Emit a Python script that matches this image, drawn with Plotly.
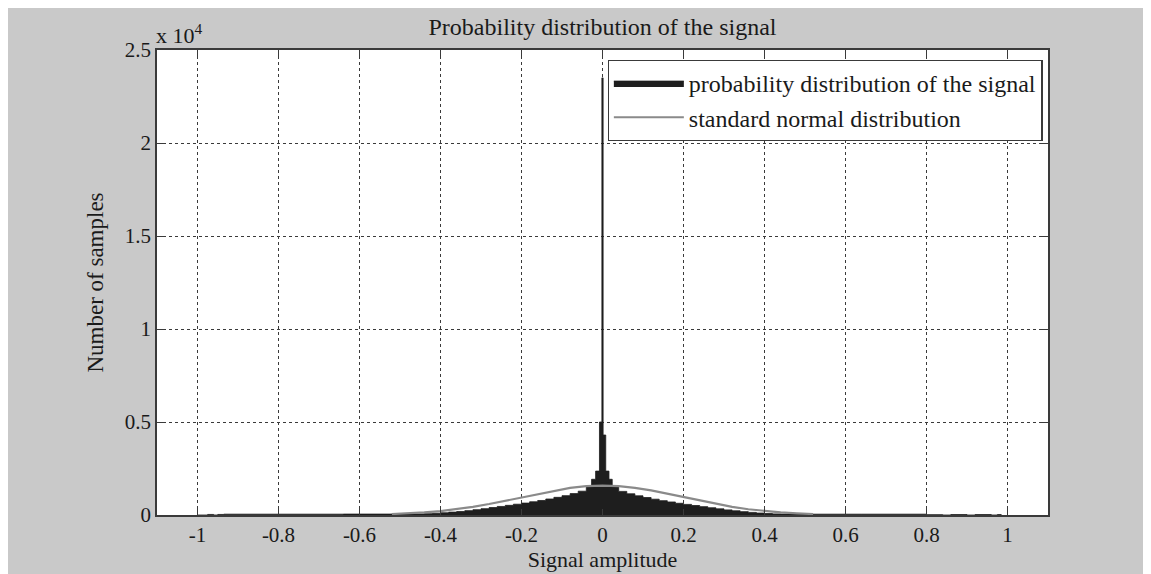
import plotly.graph_objects as go

# ---------------- data ----------------
# histogram of the signal: bin edges and counts (variable-width bins)
bin_edges = [
    -1.00, -0.975, -0.96, -0.95, -0.935, -0.80, -0.64, -0.52, -0.44,
    -0.42, -0.40, -0.38, -0.36, -0.34, -0.32, -0.30, -0.28, -0.26, -0.24,
    -0.22, -0.20, -0.18, -0.16, -0.14, -0.12, -0.10, -0.08, -0.06, -0.04,
    -0.027, -0.017, -0.0075, -0.0015, 0.0015, 0.008, 0.016, 0.024, 0.04,
    0.06, 0.08, 0.10, 0.12, 0.14, 0.16, 0.18, 0.20, 0.22, 0.24,
    0.26, 0.28, 0.30, 0.32, 0.34, 0.36, 0.38, 0.40, 0.42, 0.44,
    0.52, 0.64, 0.80, 0.84, 0.86, 0.90, 0.92, 0.96, 0.975, 0.985,
]
bin_counts = [
    0, 30, 0, 30, 45, 45, 50, 60,
    70, 95, 120, 155, 190, 235, 285, 340, 400, 460,
    520, 580, 640, 710, 780, 860, 950, 1040, 1150, 1280,
    1500, 1920, 2360, 5000, 23500, 4300, 2360, 1920, 1500,
    1270, 1140, 1030, 940, 850, 770, 700, 630, 570, 510,
    450, 390, 330, 275, 225, 180, 140, 105, 80, 60,
    50, 45, 45, 20, 0, 25, 0, 25, 0, 25,
]

# reference normal curve (scaled)
norm_x = [-0.52, -0.48, -0.44, -0.40, -0.36, -0.32, -0.28, -0.24, -0.20,
          -0.16, -0.12, -0.08, -0.04, 0.00, 0.04, 0.08, 0.12, 0.16,
          0.20, 0.24, 0.28, 0.32, 0.36, 0.40, 0.44, 0.48, 0.52]
norm_y = [50, 90, 140, 210, 310, 440, 590, 770, 950,
          1140, 1320, 1460, 1550, 1580, 1550, 1460, 1320, 1140,
          950, 770, 590, 440, 310, 210, 140, 90, 50]

x_ticks = [-1, -0.8, -0.6, -0.4, -0.2, 0, 0.2, 0.4, 0.6, 0.8, 1]
x_tick_text = ["-1", "-0.8", "-0.6", "-0.4", "-0.2", "0", "0.2", "0.4", "0.6", "0.8", "1"]
y_ticks = [0, 5000, 10000, 15000, 20000, 25000]
y_tick_text = ["0", "0.5", "1", "1.5", "2", "2.5"]

# ---------------- figure ----------------
FONT = "Liberation Serif, Times New Roman, serif"
BG = "#c9c9c9"
TXT = "#1a1a1a"

fig = go.Figure()

step_y = bin_counts + [bin_counts[-1]]
fig.add_trace(go.Scatter(
    x=bin_edges, y=step_y, mode="lines", line_shape="hv",
    line=dict(color="#1e1e1e", width=0.8),
    fill="tozeroy", fillcolor="#1e1e1e",
    name="probability distribution of the signal",
))
fig.add_trace(go.Scatter(
    x=norm_x, y=norm_y, mode="lines",
    line=dict(color="#8a8a8a", width=2.2),
    name="standard normal distribution",
))

axis_common = dict(
    showline=True, linecolor="#3a3a3a", linewidth=1.6, mirror="ticks",
    ticks="inside", ticklen=6, tickcolor="#3a3a3a", tickwidth=1.2,
    showgrid=True, gridcolor="#3a3a3a", griddash="dot", gridwidth=1.3,
    zeroline=False,
    tickfont=dict(family=FONT, size=21, color=TXT),
)

fig.update_xaxes(
    range=[-1.1, 1.1], tickvals=x_ticks, ticktext=x_tick_text,
    title=dict(text="Signal amplitude", font=dict(family=FONT, size=22, color=TXT), standoff=0),
    **axis_common,
)
fig.update_yaxes(
    range=[0, 25000], tickvals=y_ticks, ticktext=y_tick_text,
    title=dict(text="Number of samples", font=dict(family=FONT, size=23, color=TXT), standoff=15),
    **axis_common,
)

fig.update_layout(
    width=1143, height=566,
    margin=dict(l=149, r=103, t=42, b=48),
    paper_bgcolor=BG, plot_bgcolor="white",
    title=dict(text="Probability distribution of the signal",
               font=dict(family=FONT, size=24, color=TXT),
               x=(149 + 891 / 2) / 1143, xanchor="center",
               y=1 - 19 / 566, yanchor="middle", yref="container"),
    showlegend=True,
    legend=dict(
        x=0.994, xanchor="right", y=0.979, yanchor="top",
        bgcolor="white", bordercolor="#3a3a3a", borderwidth=1.2,
        font=dict(family=FONT, size=24, color=TXT),
        tracegroupgap=0, itemwidth=70,
    ),
    annotations=[dict(
        text="x 10<sup>4</sup>", xref="paper", yref="paper", x=-0.003, y=1.0,
        xanchor="left", yanchor="bottom", showarrow=False,
        font=dict(family=FONT, size=22, color=TXT),
    )],
)

fig.write_html("out.html")
